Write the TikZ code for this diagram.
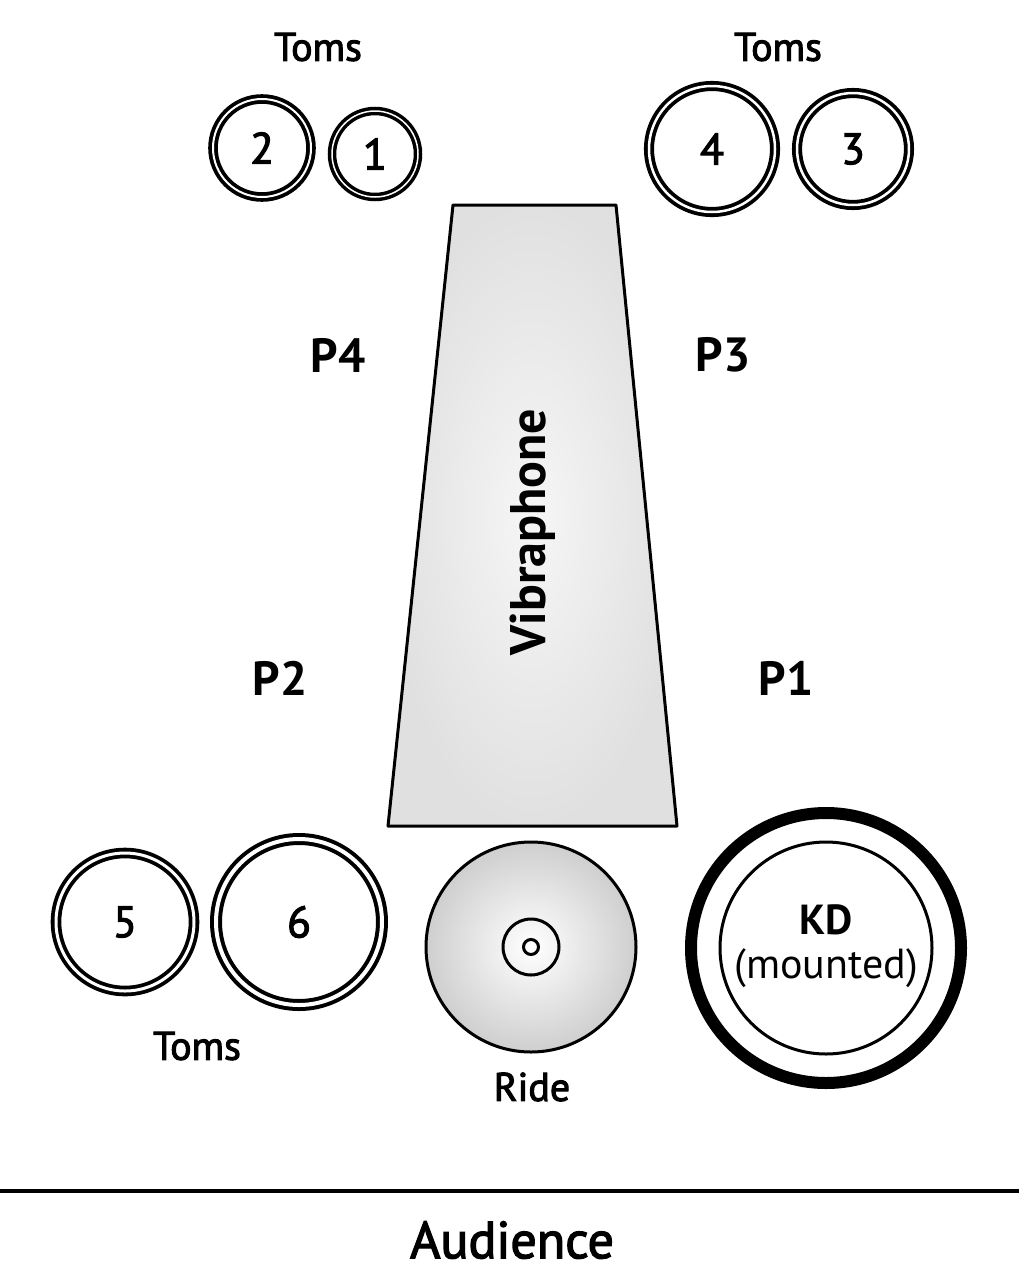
\documentclass[tikz,border=0pt]{standalone}
\usepackage{fontspec}
\setmainfont{PT Sans}
\newfontfamily\medfont[FakeBold=2.5]{PT Sans}
\begin{document}
\begin{tikzpicture}[x=1pt,y=-1pt,
  drum/.style={circle, draw, inner sep=0pt, double, font=\medfont\fontsize{44}{44}\selectfont},
  lbl/.style={inner sep=0pt, font=\medfont\fontsize{40}{40}\selectfont},
  plbl/.style={inner sep=0pt, font=\bfseries\fontsize{48}{48}\selectfont}]
\useasboundingbox (0,0) rectangle (1019,1283);
% Vibraphone
\shadedraw[line width=3pt, line join=round, inner color=gray!7, outer color=gray!24]
  (453,205) -- (616,205) -- (677,826) -- (388,826) -- cycle;
\node[inner sep=0pt, rotate=90, font=\bfseries\fontsize{50}{50}\selectfont] (vib) at (533,532) {Vibraphone};
% Toms top
\node[drum, minimum size=98pt, line width=3.8pt, double distance=2pt] (t2) at (262,148) {2};
\node[drum, minimum size=86pt, line width=3.5pt, double distance=1.5pt] (t1) at (375,154) {1};
\node[drum, minimum size=126pt, line width=3.8pt, double distance=2.5pt] (t4) at (712,149) {4};
\node[drum, minimum size=112pt, line width=3.8pt, double distance=2.5pt] (t3) at (853,149) {3};
\node[lbl] (tomsL) at (318,47) {Toms};
\node[lbl] (tomsR) at (778,47) {Toms};
% P labels
\node[plbl] (p4) at (338,355) {P4};
\node[plbl] (p3) at (723,355) {P3};
\node[plbl] (p2) at (280,678) {P2};
\node[plbl] (p1) at (786,678) {P1};
% Toms bottom
\node[drum, minimum size=138pt, line width=3.8pt, double distance=3pt] (t5) at (125,922) {5};
\node[drum, minimum size=166pt, line width=4pt, double distance=4pt] (t6) at (299,922) {6};
\node[lbl] (tomsB) at (197,1046) {Toms};
% Ride
\node[circle, draw, line width=3pt, minimum size=210pt, inner sep=0pt, shading=radial, inner color=white, outer color=gray!38] (ride) at (531,947) {};
\node[circle, draw, line width=3pt, minimum size=56pt, inner sep=0pt] (bell) at (ride.center) {};
\node[circle, draw, line width=3pt, minimum size=15pt, inner sep=0pt] (hole) at (ride.center) {};
\node[lbl] (ridel) at (532,1087) {Ride};
% KD
\node[circle, draw, line width=12pt, minimum size=270pt, inner sep=0pt] (kd) at (826,948) {};
\node[circle, draw, line width=3pt, minimum size=212pt, inner sep=0pt] (kdin) at (kd.center) {};
\node[inner sep=0pt, font=\bfseries\fontsize{42}{42}\selectfont] (kdt) at (826,920) {KD};
\node[inner sep=0pt, font=\fontsize{42}{42}\selectfont] (kdm) at (826,968) {(mounted)};
% Audience
\coordinate (la) at (0,1191);
\coordinate (lb) at (1019,1191);
\draw[line width=4pt] (la) -- (lb);
\node[lbl, font=\medfont\fontsize{52}{52}\selectfont] (aud) at (512,1240) {Audience};
\end{tikzpicture}
\end{document}
